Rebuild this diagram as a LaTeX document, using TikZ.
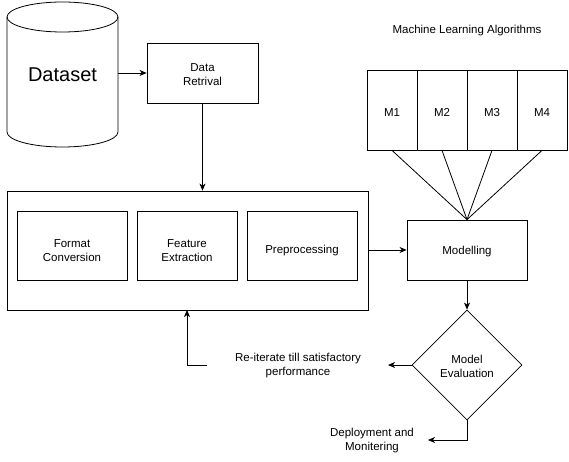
\documentclass[tikz,border=0pt]{standalone}
\usepackage{fontspec}
\setmainfont{Liberation Sans}
\usetikzlibrary{shapes.geometric,arrows.meta}
\begin{document}
\begin{tikzpicture}[x=1pt,y=1pt,
  box/.style={draw,line width=0.8pt,rectangle,align=center,font=\fontsize{11.5}{14}\selectfont,inner sep=0pt},
  lbl/.style={align=center,font=\fontsize{11.5}{14}\selectfont,inner sep=0pt},
  arr/.style={-{Stealth[length=7pt,width=6pt,inset=2pt]},line width=0.8pt},
  ln/.style={line width=0.8pt}]
\useasboundingbox (0,0) rectangle (569,-462);
% cylinder
\draw[ln] (7,-17) -- (7,-132) arc[start angle=180,end angle=360,x radius=55.5,y radius=15] -- (118,-17);
\draw[ln] (62.5,-17) ellipse[x radius=55.5,y radius=15];
\node[inner sep=0pt,minimum width=111pt,minimum height=145pt,font=\fontsize{20}{24}\selectfont] (ds) at (62.5,-74.5) {Dataset};
\node[box,minimum width=111pt,minimum height=60pt] (dr) at (202.5,-73) {};
\node[lbl] (drt) at ([yshift=-1.5]dr.center) {Data\\Retrival};
\node[box,minimum width=361pt,minimum height=119pt] (big) at (187.5,-250.5) {};
\node[box,minimum width=110pt,minimum height=69pt] (fc) at (72,-245.5) {};
\node[box,minimum width=100pt,minimum height=69pt] (fe) at (187,-245.5) {};
\node[box,minimum width=110pt,minimum height=69pt] (pp) at (302,-245.5) {};
\node[lbl] (fct) at ([yshift=-5.5]fc.center) {Format\\Conversion};
\node[lbl] (fet) at ([yshift=-5.5]fe.center) {Feature\\Extraction};
\node[lbl] (ppt) at ([yshift=-5.5]pp.center) {Preprocessing};
\node[lbl] (mla) at (467,-31) {Machine Learning Algorithms};
\node[box,minimum width=50pt,minimum height=80pt] (m1) at (392,-110) {};
\node[box,minimum width=50pt,minimum height=80pt] (m2) at (442,-110) {};
\node[box,minimum width=50pt,minimum height=80pt] (m3) at (492,-110) {};
\node[box,minimum width=50pt,minimum height=80pt] (m4) at (542,-110) {};
\node[lbl] (m1t) at ([yshift=-2.5]m1.center) {M1};
\node[lbl] (m2t) at ([yshift=-2.5]m2.center) {M2};
\node[lbl] (m3t) at ([yshift=-2.5]m3.center) {M3};
\node[lbl] (m4t) at ([yshift=-2.5]m4.center) {M4};
\node[box,minimum width=120pt,minimum height=60pt] (mod) at (467,-250) {};
\node[lbl] (modt) at ([yshift=-1.5]mod.center) {Modelling};
\node[draw,line width=0.8pt,diamond,minimum width=110pt,minimum height=110pt,inner sep=0pt] (ev) at (467,-365) {};
\node[lbl] (evt) at ([yshift=-1]ev.center) {Model\\Evaluation};
\node[lbl] (re) at (298,-366) {Re-iterate till satisfactory\\performance};
\node[lbl] (dep) at (372,-441) {Deployment and\\Monitering};
\coordinate (reend) at (388,-365);
\coordinate (depend) at (428,-440);
\coordinate (restart) at (207,-365);
% connectors
\draw[arr] (ds.east |- dr.west) -- (dr.west);
\draw[arr] (dr.south) -- (dr.south |- big.north);
\draw[arr] (big.east |- mod.west) -- (mod.west);
\draw[ln] (m1.south) -- (mod.north);
\draw[ln] (m2.south) -- (mod.north);
\draw[ln] (m3.south) -- (mod.north);
\draw[ln] (m4.south) -- (mod.north);
\draw[arr] (mod.south) -- (ev.north);
\draw[arr] (ev.west) -- (reend);
\draw[arr] (restart) -| (187,-310);
\draw[arr] (ev.south) |- (depend);
\end{tikzpicture}
\end{document}
